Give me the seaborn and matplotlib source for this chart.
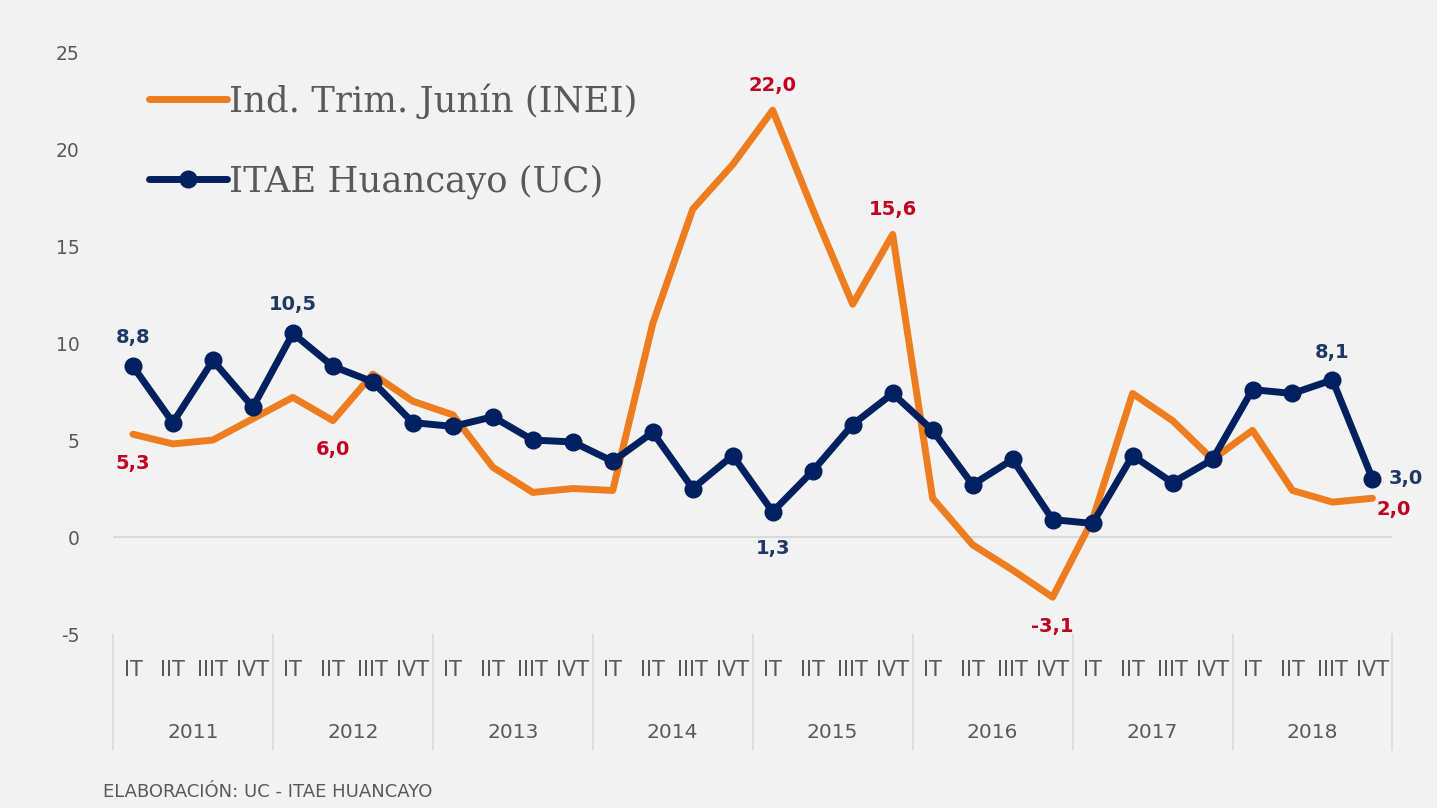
import matplotlib
matplotlib.use('Agg')
import matplotlib.pyplot as plt
import matplotlib.transforms as mtransforms
import seaborn as sns
import numpy as np

years = ['2011', '2012', '2013', '2014', '2015', '2016', '2017', '2018']
quarters = ['IT', 'IIT', 'IIIT', 'IVT']

# Ind. Trim. Junin (INEI)
inei = [5.3, 4.8, 5.0, 6.1, 7.2, 6.0, 8.4, 7.0,
        6.3, 3.6, 2.3, 2.5, 2.4, 11.0, 16.9, 19.2,
        22.0, 16.9, 12.0, 15.6, 2.0, -0.4, -1.7, -3.1,
        0.9, 7.4, 6.0, 4.0, 5.5, 2.4, 1.8, 2.0]

# ITAE Huancayo (UC)
itae = [8.8, 5.9, 9.1, 6.7, 10.5, 8.8, 8.0, 5.9,
        5.7, 6.2, 5.0, 4.9, 3.9, 5.4, 2.5, 4.2,
        1.3, 3.4, 5.8, 7.4, 5.5, 2.7, 4.0, 0.9,
        0.7, 4.2, 2.8, 4.0, 7.6, 7.4, 8.1, 3.0]

orange = '#ED7D1F'
navy = '#002060'
red_lbl = '#C0001F'
navy_lbl = '#1F3864'
gray = '#595959'
bg = '#F2F2F2'

sns.set_theme(style='white')
plt.rcParams['font.family'] = ['DejaVu Sans']

fig = plt.figure(figsize=(14.37, 8.08), dpi=100, facecolor=bg)
ax = fig.add_axes([0.0786, 0.2153, 0.8904, 0.7203])
ax.set_facecolor(bg)

x = list(range(len(inei)))

sns.lineplot(x=x, y=inei, ax=ax, color=orange, linewidth=5,
             label='Ind. Trim. Junín (INEI)', solid_joinstyle='round', solid_capstyle='round')
sns.lineplot(x=x, y=itae, ax=ax, color=navy, linewidth=5, marker='o', markersize=13,
             markeredgewidth=0, label='ITAE Huancayo (UC)', solid_joinstyle='round')

ax.axhline(0, color='#D9D9D9', linewidth=1.5, zorder=0)

ax.set_xlim(-0.5, len(inei) - 0.5)
ax.set_ylim(-5, 25)
ax.set_yticks([-5, 0, 5, 10, 15, 20, 25])
ax.set_yticklabels(['-5', '0', '5', '10', '15', '20', '25'])
ax.tick_params(axis='y', length=0, labelsize=13.5, labelcolor=gray, pad=24)

ax.set_xticks(x)
ax.set_xticklabels(quarters * len(years))
ax.tick_params(axis='x', length=0, labelsize=15, labelcolor=gray, pad=19)

for s in ax.spines.values():
    s.set_visible(False)

# two-level category axis
trans = mtransforms.blended_transform_factory(ax.transData, ax.transAxes)
for k in range(len(years) + 1):
    xb = k * 4 - 0.5
    ax.plot([xb, xb], [0, -0.2], transform=trans, color='#D9D9D9', linewidth=1.2, clip_on=False)
for k, yr in enumerate(years):
    ax.text(k * 4 + 1.5, -0.17, yr, transform=trans, ha='center', va='center',
            fontsize=14.5, color=gray)

# data labels
lbl = dict(fontsize=14, fontweight='bold', ha='center')
def fmt(v):
    return f'{v:.1f}'.replace('.', ',')

ax.text(0, inei[0] - 1.0, fmt(inei[0]), color=red_lbl, va='top', **lbl)
ax.text(5, inei[5] - 1.0, fmt(inei[5]), color=red_lbl, va='top', **lbl)
ax.text(16, inei[16] + 0.8, fmt(inei[16]), color=red_lbl, va='bottom', **lbl)
ax.text(19, inei[19] + 0.8, fmt(inei[19]), color=red_lbl, va='bottom', **lbl)
ax.text(23, inei[23] - 1.0, fmt(inei[23]), color=red_lbl, va='top', **lbl)
ax.text(31.1, inei[31] - 0.1, fmt(inei[31]), color=red_lbl, va='top',
        fontsize=14, fontweight='bold', ha='left')

ax.text(0, itae[0] + 1.0, fmt(itae[0]), color=navy_lbl, va='bottom', **lbl)
ax.text(4, itae[4] + 1.0, fmt(itae[4]), color=navy_lbl, va='bottom', **lbl)
ax.text(16, itae[16] - 1.4, fmt(itae[16]), color=navy_lbl, va='top', **lbl)
ax.text(30, itae[30] + 0.9, fmt(itae[30]), color=navy_lbl, va='bottom', **lbl)
ax.text(31.4, itae[31], fmt(itae[31]), color=navy_lbl, va='center',
        fontsize=14, fontweight='bold', ha='left')

leg = ax.legend(loc='upper left', bbox_to_anchor=(0.104, 0.897), bbox_transform=fig.transFigure,
                frameon=False, handlelength=2.2, handletextpad=0.05, labelspacing=1.3,
                borderaxespad=0, borderpad=0,
                prop={'family': 'DejaVu Serif', 'size': 25.5})
for t in leg.get_texts():
    t.set_color(gray)

fig.text(0.072, 0.014, 'ELABORACIÓN: UC - ITAE HUANCAYO', fontsize=13, color=gray)

fig.savefig('out.png', dpi=100, facecolor=bg)
